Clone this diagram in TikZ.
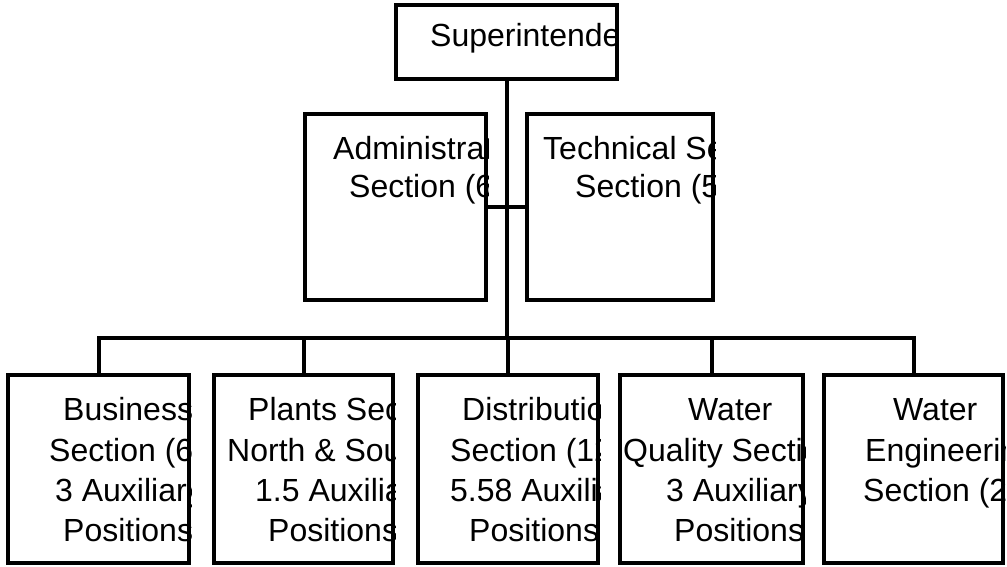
\documentclass[tikz,border=0pt]{standalone}
\usepackage{fontspec}
\setmainfont{Liberation Sans}
\usepackage{tikz}

\begin{document}
\begin{tikzpicture}[x=1pt,y=-1pt,
	orgbox/.style={draw,line width=4.5pt,inner sep=0pt},
	boxtext/.style={anchor=base west,inner sep=0pt,font=\fontsize{32}{38}\selectfont},
	link/.style={line width=4pt}]
		\useasboundingbox (0,0) rectangle (1007,567);
		%
		\node[orgbox,minimum width=221,minimum height=74] (sup) at (506.5,42) {};
		\node[orgbox,minimum width=181,minimum height=186] (adm) at (395.5,207) {};
		\node[orgbox,minimum width=186,minimum height=186] (tec) at (620,207) {};
		\node[orgbox,minimum width=181,minimum height=188] (b1) at (98.5,469) {};
		\node[orgbox,minimum width=179,minimum height=188] (b2) at (303.5,469) {};
		\node[orgbox,minimum width=180,minimum height=188] (b3) at (508,469) {};
		\node[orgbox,minimum width=183,minimum height=188] (b4) at (711.5,469) {};
		\node[orgbox,minimum width=179,minimum height=188] (b5) at (913.5,469) {};
		%
		\coordinate (bus) at (506.5,338);
		\draw[link] (sup.south) -- (bus);
		\draw[link] (adm.east) -- (tec.west);
		\draw[link] (b1.north) |- (bus) -| (b5.north);
		\draw[link] (b2.north) -- (b2.north |- bus);
		\draw[link] (b3.north) -- (b3.north |- bus);
		\draw[link] (b4.north) -- (b4.north |- bus);
		%
		\begin{scope}
		\clip (sup.south west) rectangle (sup.north east);
		\node[boxtext] (sup-1) at (430,47) {Superintendent};
		\end{scope}
		\begin{scope}
		\clip (adm.south west) rectangle (adm.north east);
		\node[boxtext] (adm-1) at (333,160) {Administrative};
		\node[boxtext] (adm-2) at (349,197) {Section (6)};
		\end{scope}
		\begin{scope}
		\clip (tec.south west) rectangle (tec.north east);
		\node[boxtext] (tec-1) at (543,160) {Technical Services};
		\node[boxtext] (tec-2) at (575,197) {Section (5)};
		\end{scope}
		\begin{scope}
		\clip (b1.south west) rectangle (b1.north east);
		\node[boxtext] (b1-1) at (63,420) {Business};
		\node[boxtext] (b1-2) at (49,461) {Section (63)};
		\node[boxtext] (b1-3) at (55,501) {3 Auxiliary};
		\node[boxtext] (b1-4) at (63,541) {Positions};
		\end{scope}
		\begin{scope}
		\clip (b2.south west) rectangle (b2.north east);
		\node[boxtext] (b2-1) at (248,420) {Plants Section};
		\node[boxtext] (b2-2) at (227,461) {North \& South (14)};
		\node[boxtext] (b2-3) at (255,501) {1.5 Auxiliary};
		\node[boxtext] (b2-4) at (268,541) {Positions};
		\end{scope}
		\begin{scope}
		\clip (b3.south west) rectangle (b3.north east);
		\node[boxtext] (b3-1) at (462,420) {Distribution};
		\node[boxtext] (b3-2) at (450,461) {Section (12)};
		\node[boxtext] (b3-3) at (450,501) {5.58 Auxiliary};
		\node[boxtext] (b3-4) at (469,541) {Positions};
		\end{scope}
		\begin{scope}
		\clip (b4.south west) rectangle (b4.north east);
		\node[boxtext] (b4-1) at (688,420) {Water};
		\node[boxtext] (b4-2) at (623,461) {Quality Section (9)};
		\node[boxtext] (b4-3) at (666,501) {3 Auxiliary};
		\node[boxtext] (b4-4) at (674,541) {Positions};
		\end{scope}
		\begin{scope}
		\clip (b5.south west) rectangle (b5.north east);
		\node[boxtext] (b5-1) at (893,420) {Water};
		\node[boxtext] (b5-2) at (865,461) {Engineering};
		\node[boxtext] (b5-3) at (863,501) {Section (2)};
		\end{scope}
\end{tikzpicture}
\end{document}
